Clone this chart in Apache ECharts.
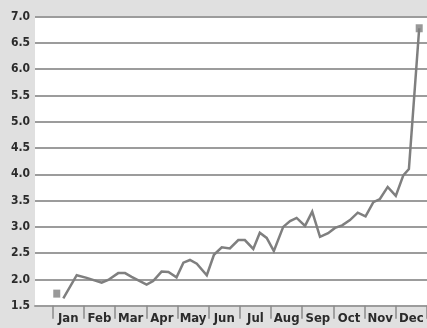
<!DOCTYPE html>
<html>
<head>
<meta charset="utf-8">
<script src="https://cdn.jsdelivr.net/npm/echarts@6/dist/echarts.min.js"></script>
<style>
  html, body { margin: 0; padding: 0; background: #e0e0e0; }
  #chart { width: 427px; height: 328px; }
</style>
</head>
<body>
<div id="chart"></div>
<script>
// Month labels along the bottom
const months = ['Jan', 'Feb', 'Mar', 'Apr', 'May', 'Jun', 'Jul', 'Aug', 'Sep', 'Oct', 'Nov', 'Dec'];

// Y axis range and step
const yMin = 1.5;
const yMax = 7.0;
const yStep = 0.5;

// Position of each reading within the year (in months from Jan 1) and its value
const monthPos = [0.34, 0.77, 1.09, 1.57, 1.78, 2.10, 2.32, 2.53, 3.01, 3.22,
                  3.49, 3.71, 3.97, 4.19, 4.40, 4.62, 4.94, 5.17, 5.42, 5.68,
                  5.95, 6.16, 6.43, 6.64, 6.86, 7.09, 7.39, 7.61, 7.82, 8.09,
                  8.32, 8.57, 8.83, 9.05, 9.28, 9.53, 9.78, 10.03, 10.28, 10.49,
                  10.74, 11.00, 11.24, 11.42, 11.75];
const rate = [1.64, 2.08, 2.03, 1.94, 1.99, 2.12, 2.12, 2.05, 1.90, 1.97,
              2.15, 2.14, 2.04, 2.32, 2.37, 2.30, 2.08, 2.47, 2.61, 2.59,
              2.75, 2.75, 2.58, 2.89, 2.79, 2.54, 3.00, 3.11, 3.17, 3.02,
              3.29, 2.81, 2.88, 2.98, 3.03, 3.13, 3.27, 3.20, 3.47, 3.53,
              3.76, 3.59, 3.98, 4.10, 6.78];

// Opening marker (first reading of the year)
const startPos = [0.13];
const startRate = [1.73];

const FONT = '"Liberation Sans Narrow", "DejaVu Sans Condensed", sans-serif';
const GRID_COLOR = '#9c9c9c';
const LINE_COLOR = '#7f7f7f';

const lineData = monthPos.map((m, i) => [m, rate[i]]);
const markerData = [
  [startPos[0], startRate[0]],
  [monthPos[monthPos.length - 1], rate[rate.length - 1]]
];

const chart = echarts.init(document.getElementById('chart'), null, { renderer: 'canvas' });
chart.setOption({
  animation: false,
  backgroundColor: '#e0e0e0',
  grid: [
    // plot panel with horizontal rules and value labels
    { left: 35, right: 0, top: 16.7, bottom: 22.3, show: true, backgroundColor: '#ffffff', borderWidth: 0 },
    // month band, starting at the first month divider
    { left: 52.7, right: 0, top: 16.7, bottom: 22.3 }
  ],
  xAxis: [
    {
      gridIndex: 0, type: 'value', min: 0, max: 1, show: true,
      axisLine: { show: true, lineStyle: { color: GRID_COLOR, width: 2 } },
      axisTick: { show: false }, axisLabel: { show: false }, splitLine: { show: false }
    },
    {
      gridIndex: 1, type: 'category', data: months, boundaryGap: true, position: 'bottom',
      axisLine: { show: false },
      axisTick: { show: true, interval: 0, length: 13, lineStyle: { color: '#8a8a8a', width: 1.5 } },
      axisLabel: { interval: 0, margin: 6, color: '#2b2b2b', fontFamily: FONT, fontWeight: 'bold', fontSize: 13 },
      splitLine: { show: false }
    },
    {
      gridIndex: 1, type: 'value', min: 0, max: 12, show: false, position: 'top'
    }
  ],
  yAxis: [
    {
      gridIndex: 0, type: 'value', min: yMin, max: yMax, interval: yStep,
      axisLine: { show: false }, axisTick: { show: false },
      axisLabel: {
        margin: 5, color: '#2b2b2b', fontFamily: FONT, fontWeight: 'bold', fontSize: 12,
        formatter: v => v.toFixed(1)
      },
      splitLine: { show: true, lineStyle: { color: GRID_COLOR, width: 2 } }
    },
    {
      gridIndex: 1, type: 'value', min: yMin, max: yMax, show: false
    }
  ],
  series: [
    {
      type: 'line', xAxisIndex: 2, yAxisIndex: 1, data: lineData,
      showSymbol: false, smooth: false,
      lineStyle: { color: LINE_COLOR, width: 2.5, join: 'miter' },
      z: 3
    },
    {
      type: 'scatter', xAxisIndex: 2, yAxisIndex: 1, data: markerData,
      symbol: 'rect', symbolSize: [7, 8],
      itemStyle: { color: LINE_COLOR },
      z: 4
    }
  ]
});
</script>
</body>
</html>
